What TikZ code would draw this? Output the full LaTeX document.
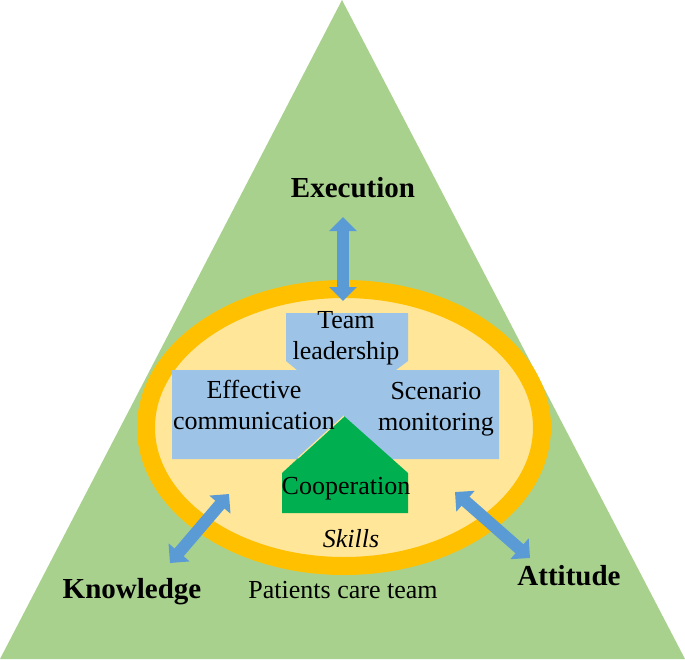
\documentclass[tikz,border=0pt]{standalone}
\usepackage{fontspec}
\setmainfont{Liberation Serif}
\usetikzlibrary{arrows.meta}
\definecolor{trigreen}{HTML}{A9D18E}
\definecolor{ringorange}{HTML}{FFC000}
\definecolor{innerfill}{HTML}{FFE699}
\definecolor{pieceblue}{HTML}{9DC3E6}
\definecolor{coopgreen}{HTML}{00B050}
\definecolor{arrowblue}{HTML}{5B9BD5}
\tikzset{
  big/.style={font=\fontsize{29}{33}\selectfont\bfseries, inner sep=0pt},
  lbl/.style={font=\fontsize{26}{31}\selectfont, inner sep=0pt, align=center},
  dblarrow/.style={draw=arrowblue, line width=12pt,
    {Triangle[length=14pt,width=27pt]}-{Triangle[length=14pt,width=27pt]}}
}
\begin{document}
\begin{tikzpicture}[x=1pt,y=-1pt]
\useasboundingbox (0,0) rectangle (685,659);
% triangle
\fill[trigreen] (342,0) -- (685,659) -- (0,659) -- cycle;
% ellipse with ring
\fill[innerfill] (344,427.5) ellipse [x radius=198, y radius=138.5];
\draw[ringorange, line width=18pt] (344,427.5) ellipse [x radius=198, y radius=138.5];
% blue puzzle piece
\fill[pieceblue] (286,313) -- (408,313) -- (408,361) -- (396,370) -- (499,370)
  -- (499,459) -- (172,459) -- (172,370) -- (297,370) -- (286,361) -- cycle;
% green house
\fill[coopgreen] (344,416) -- (408,473) -- (408,513) -- (282,513) -- (282,473) -- cycle;
\draw[innerfill, line width=1.2pt] (344,416) -- (298,458);
% texts
\node[big] (exec) at (353,188) {Execution};
\node[big] (know) at (132,592) {Knowledge};
\node[big] (att) at (569,576) {Attitude};
\node[lbl] (team) at (346,338) {Team\\leadership};
\node[lbl] (eff) at (254,405) {Effective\\communication};
\node[lbl] (scen) at (436,409) {Scenario\\monitoring};
\node[lbl] (coop) at (346,489) {Cooperation};
\node[lbl, font=\fontsize{26}{31}\selectfont\itshape] (skills) at (351,539) {Skills};
\node[lbl] (pct) at (343,590) {Patients care team};
% arrow end points
\coordinate (e1) at (343,217);
\coordinate (e2) at (343,301);
\coordinate (k1) at (170,563);
\coordinate (k2) at (229,494);
\coordinate (a1) at (455,492);
\coordinate (a2) at (530,558);
\draw[dblarrow] (e1) -- (e2);
\draw[dblarrow] (k1) -- (k2);
\draw[dblarrow] (a1) -- (a2);
\end{tikzpicture}
\end{document}
